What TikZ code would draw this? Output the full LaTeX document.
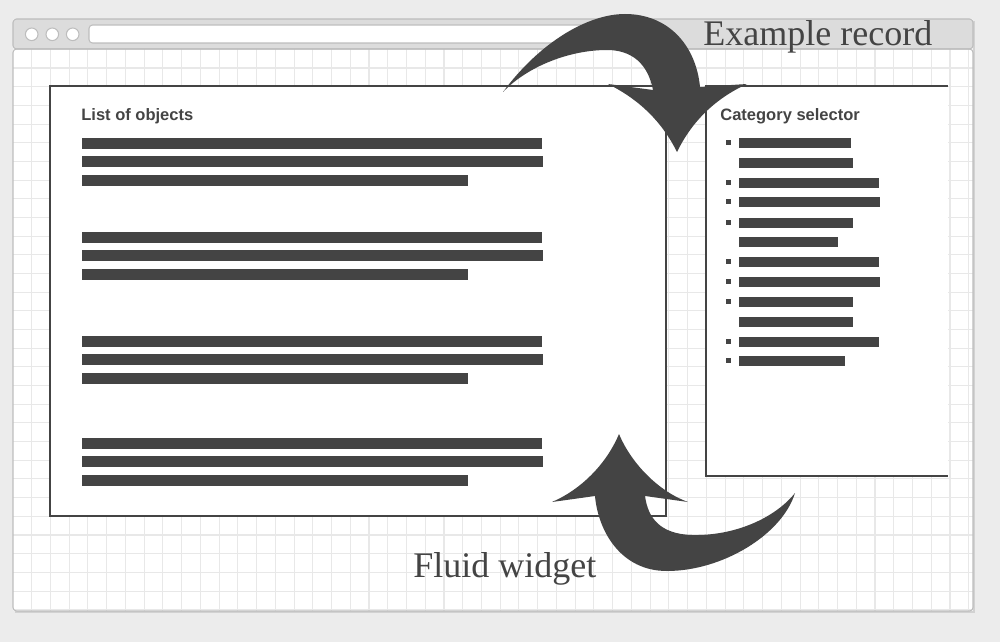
\documentclass[tikz,border=0pt]{standalone}
\usepackage{fontspec}
\setmainfont{Liberation Serif}
\setsansfont{Liberation Sans}
\usetikzlibrary{calc}

\definecolor{pagegrey}{HTML}{ECECEC}
\definecolor{framegrey}{HTML}{BDBDBD}
\definecolor{bargrey}{HTML}{DCDCDC}
\definecolor{gridgrey}{HTML}{E8E8E8}
\definecolor{shadowgrey}{HTML}{D2D2D2}
\definecolor{ink}{HTML}{444444}

\tikzset{
	gridline/.style={draw=gridgrey, line width=0.6pt},
	panel/.style={fill=white, draw=ink, line width=0.6pt},
	textbar/.style={fill=ink},
	bullet/.style={fill=ink},
	swoosh/.style={fill=ink},
	heading/.style={anchor=base west, inner sep=0pt, text=ink, font=\sffamily\bfseries\fontsize{9.4}{11}\selectfont},
	caption/.style={anchor=base west, inner sep=0pt, text=ink, font=\fontsize{20.5}{24}\selectfont},
	knob/.style={fill=white, draw=framegrey, line width=0.6pt}
}

\begin{document}
\begin{tikzpicture}[x=0.02cm, y=-0.02cm]
	\useasboundingbox[fill=pagegrey] (0,0) rectangle (1000,642);
	% browser window
	\fill[shadowgrey] (15,21) rectangle (975,613);
	\fill[white] (13,19) rectangle (973,611);
	\begin{scope}
		\clip (13,49) rectangle (973,611);
		\foreach \i in {0,...,50}
			\draw[gridline] ({31.7+18.74*\i},49) -- ++(0,562);
		\foreach \j in {0,...,29}
			\draw[gridline] (13,{68+18.68*\j}) -- ++(960,0);
	\end{scope}
	\draw[fill=bargrey, draw=framegrey, line width=0.6pt, rounded corners=2pt] (13,49) -- (13,19) -- (973,19) -- (973,49) -- cycle;
	\draw[framegrey, line width=0.6pt, rounded corners=2pt] (13,49) rectangle (973,611);
	\foreach \cx in {31.7,52.3,72.7}
		\draw[knob] (\cx,34.3) circle (6.3);
	\draw[knob, rounded corners=2pt] (89,25) rectangle (660,43);

	% list of objects
	\draw[panel] (50,86) rectangle (666,516);
	\node[heading] (objects) at (81,120) {List of objects};
	\foreach \g in {143,237,341,443} {
		\fill[textbar] (82,\g-5.5) rectangle (542,\g+5.5);
		\fill[textbar] (82,\g+12.5) rectangle (543,\g+23.5);
		\fill[textbar] (82,\g+31.5) rectangle (468,\g+42.5);
	}

	% category selector
	\fill[white] (706,86) rectangle (948,476);
	\draw[ink, line width=0.6pt] (948,86) -- (706,86) -- (706,476) -- (948,476);
	\node[heading] (selector) at (720,120) {Category selector};
	\foreach \y/\e/\b in {143/851/1,163/853/0,183/879/1,202/880/1,223/853/1,242/838/0,
		262/879/1,282/880/1,302/853/1,322/853/0,342/879/1,361/845/1} {
		\fill[textbar] (739,\y-5.3) rectangle (\e,\y+5.3);
		\ifnum\b=1 \fill[bullet] (726,\y-3.5) rectangle (731,\y+1.5); \fi
	}

	% arrows
	\fill[swoosh] (503,92) .. controls (540,42) and (588,14) .. (625,14)
		.. controls (668,14) and (696,45) .. (700,87)
		-- (747,84)
		.. controls (712,100) and (690,125) .. (677,152)
		.. controls (662,122) and (640,100) .. (608,84)
		-- (653,90)
		.. controls (648,64) and (632,50) .. (607,50)
		.. controls (570,50) and (528,66) .. (503,92) -- cycle;
	\fill[swoosh] (619,434) .. controls (632,465) and (660,492) .. (688,502)
		-- (645,496)
		.. controls (648,518) and (660,534) .. (692,535)
		.. controls (735,536) and (775,518) .. (795,493)
		.. controls (782,535) and (722,571) .. (667,571)
		.. controls (620,571) and (598,530) .. (595,496)
		-- (552,502)
		.. controls (580,490) and (606,465) .. (619,434) -- cycle;

	\node[caption] (record) at (703,46) {Example record};
	\node[caption] (widget) at (413,577) {Fluid widget};
\end{tikzpicture}
\end{document}
